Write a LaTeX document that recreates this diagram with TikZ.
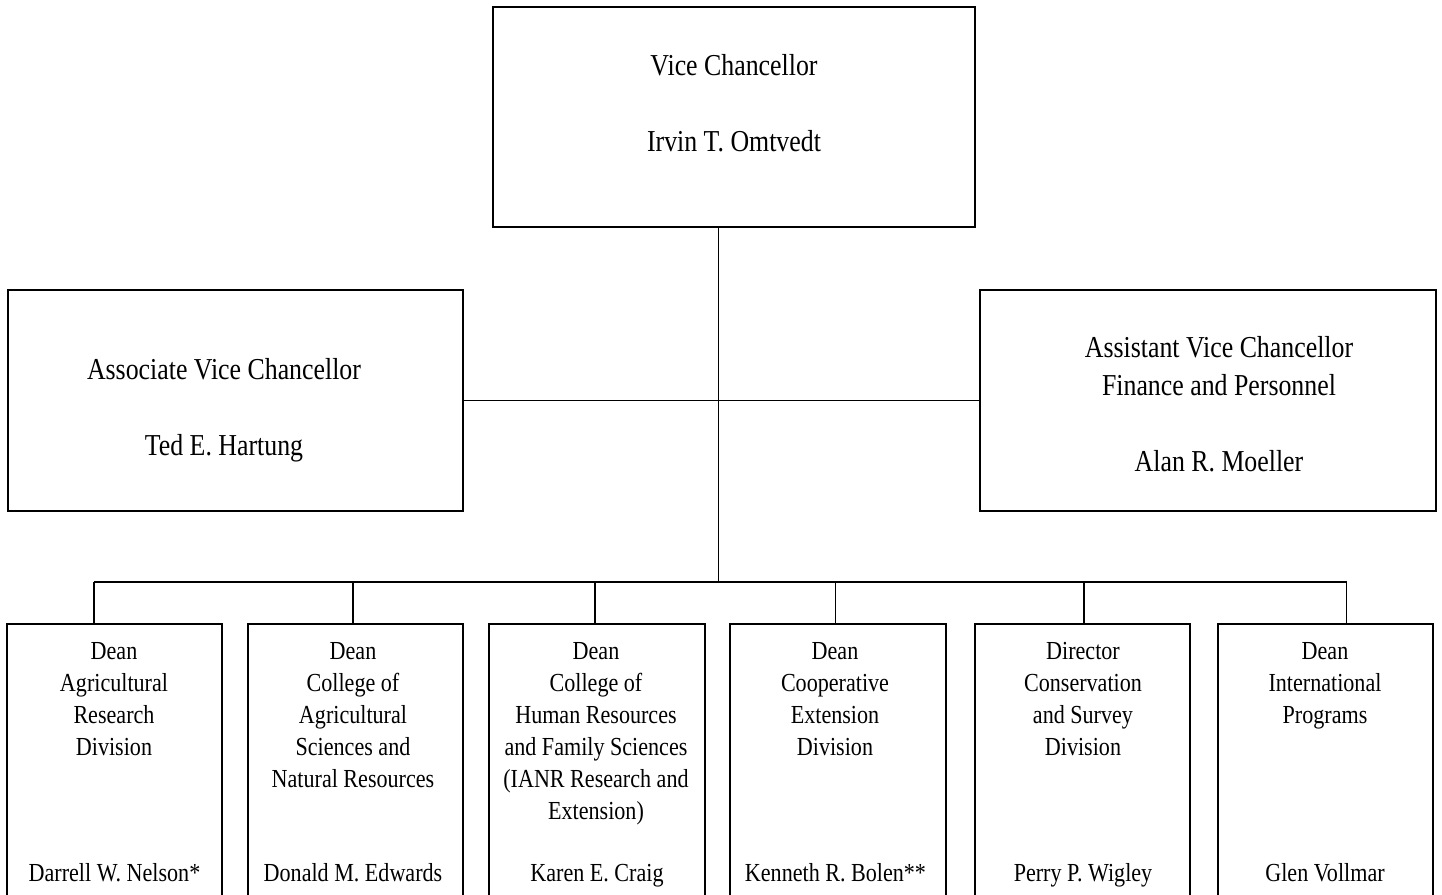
\documentclass[tikz,border=0pt]{standalone}
\usepackage{fontspec}
\setmainfont{Liberation Serif}[FakeStretch=0.85]
\begin{document}
\begin{tikzpicture}[x=0.5pt,y=-0.5pt,
  box/.style={draw,line width=0.8pt,inner sep=0pt,outer sep=0pt},
  topbox/.style={box,minimum height=110pt},
  deanbox/.style={box,minimum width=107.5pt,minimum height=143pt},
  bigtxt/.style={inner sep=0pt,align=center,font=\fontsize{15.2pt}{19pt}\selectfont},
  smalltxt/.style={inner sep=0pt,align=center,font=\fontsize{13pt}{16pt}\selectfont},
  conn/.style={line width=0.75pt}]
\useasboundingbox (0,0) rectangle (1442,895);
% top level boxes
\node[topbox,minimum width=241pt] (vc) at (734,117) {};
\node[topbox,minimum width=227.5pt,minimum height=110.5pt] (avc) at (235.5,400.5) {};
\node[topbox,minimum width=228pt,minimum height=110.5pt] (asvc) at (1208,400.5) {};
\node[bigtxt,anchor=north] (vct) at (734,54) {Vice Chancellor\\[19pt]Irvin T. Omtvedt};
\node[bigtxt,anchor=north] (avct) at (224,358) {Associate Vice Chancellor\\[19pt]Ted E. Hartung};
\node[bigtxt,anchor=north] (asvct) at (1219,336) {Assistant Vice Chancellor\\Finance and Personnel\\[19pt]Alan R. Moeller};
% dean boxes
\node[deanbox] (d1) at (114.5,767) {};
\node[deanbox] (d2) at (355.5,767) {};
\node[deanbox,minimum width=108pt] (d3) at (597,767) {};
\node[deanbox,minimum width=108pt] (d4) at (838,767) {};
\node[deanbox] (d5) at (1082.5,767) {};
\node[deanbox] (d6) at (1325.5,767) {};
\node[smalltxt,anchor=north] (d1t) at (114,642) {Dean\\Agricultural\\Research\\Division};
\node[smalltxt,anchor=north] (d2t) at (353,642) {Dean\\College of\\Agricultural\\Sciences and\\Natural Resources};
\node[smalltxt,anchor=north] (d3t) at (596,642) {Dean\\College of\\Human Resources\\and Family Sciences\\(IANR Research and\\Extension)};
\node[smalltxt,anchor=north] (d4t) at (835,642) {Dean\\Cooperative\\Extension\\Division};
\node[smalltxt,anchor=north] (d5t) at (1083,642) {Director\\Conservation\\and Survey\\Division};
\node[smalltxt,anchor=north] (d6t) at (1325,642) {Dean\\International\\Programs};
\node[smalltxt,anchor=base] (d1n) at (114.5,881) {Darrell W. Nelson*};
\node[smalltxt,anchor=base] (d2n) at (353,881) {Donald M. Edwards};
\node[smalltxt,anchor=base] (d3n) at (597,881) {Karen E. Craig};
\node[smalltxt,anchor=base] (d4n) at (835.5,881) {Kenneth R. Bolen**};
\node[smalltxt,anchor=base] (d5n) at (1083,881) {Perry P. Wigley};
\node[smalltxt,anchor=base] (d6n) at (1325,881) {Glen Vollmar};
% connectors
\coordinate (trunk) at (718.5,582);
\coordinate (p1) at (94,582);
\coordinate (p2) at (353,582);
\coordinate (p3) at (595,582);
\coordinate (p4) at (835.5,582);
\coordinate (p5) at (1084,582);
\coordinate (p6) at (1346.5,582);
\draw[conn] (vc.south -| trunk) -- (trunk);
\draw[conn] (avc.east) -- (asvc.west);
\draw[conn] (p1) -- (p6);
\draw[conn] (p1) -- (d1.north -| p1);
\draw[conn] (p2) -- (d2.north -| p2);
\draw[conn] (p3) -- (d3.north -| p3);
\draw[conn] (p4) -- (d4.north -| p4);
\draw[conn] (p5) -- (d5.north -| p5);
\draw[conn] (p6) -- (d6.north -| p6);
\end{tikzpicture}
\end{document}
